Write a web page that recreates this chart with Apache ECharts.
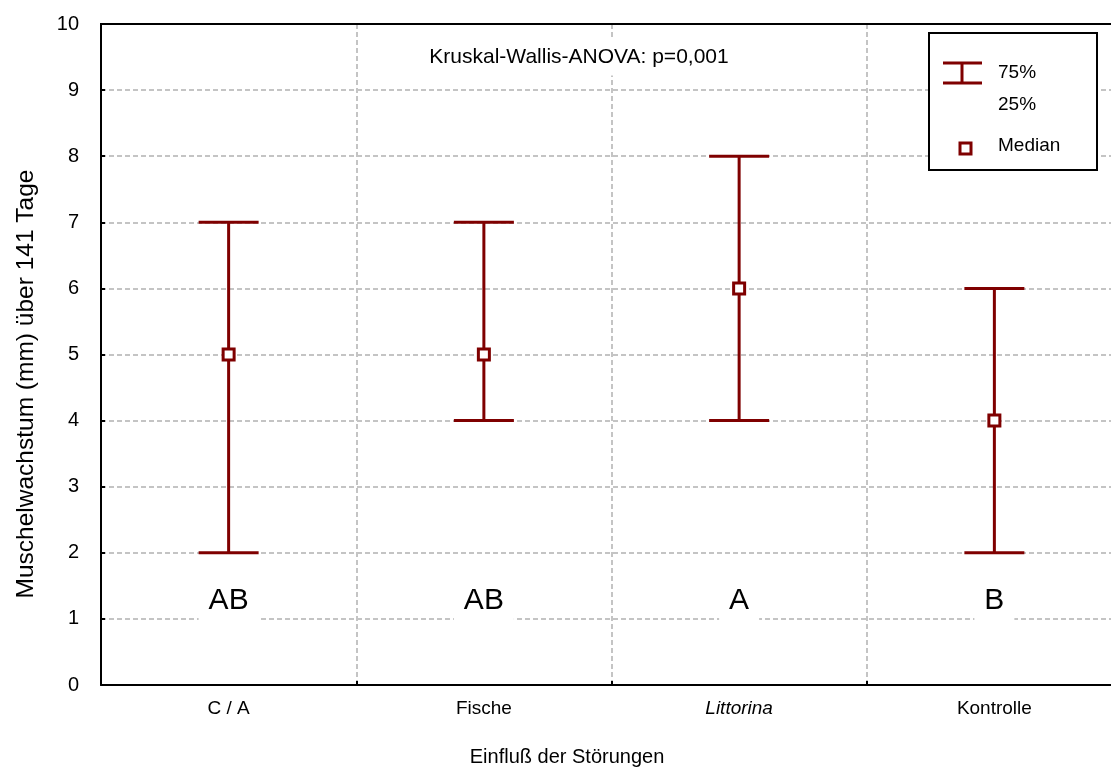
<!DOCTYPE html>
<html>
<head>
<meta charset="utf-8">
<script src="https://cdn.jsdelivr.net/npm/echarts@6/dist/echarts.min.js"></script>
<style>
html,body{margin:0;padding:0;background:#fff;}
#chart{width:1111px;height:769px;}
</style>
</head>
<body>
<div id="chart"></div>
<script>
var categories = ['C / A', 'Fische', 'Littorina', 'Kontrolle'];
var q25 = [2, 4, 4, 2];
var q75 = [7, 7, 8, 6];
var medians = [5, 5, 6, 4];
var letters = ['AB', 'AB', 'A', 'B'];
var letterLevel = [1.27, 1.27, 1.27, 1.27];
var yTicks = [0, 10, 1];

var RED = '#7f0000';
var FONT = '"Liberation Sans", Arial, sans-serif';

var chart = echarts.init(document.getElementById('chart'));

var option = {
  backgroundColor: '#fff',
  animation: false,
  grid: {left: 101, right: -11, top: 24, bottom: 84, show: false, outerBoundsMode: 'none', containLabel: false},
  xAxis: {
    type: 'category', data: categories, boundaryGap: true,
    axisLine: {show: true, lineStyle: {color: '#000', width: 2}},
    axisTick: {show: true, inside: true, length: 4, lineStyle: {color: '#000', width: 2}},
    splitLine: {show: true, lineStyle: {color: '#c4c4c4', type: [5, 3], width: 2}},
    axisLabel: {
      margin: 14, fontFamily: FONT, fontSize: 19, color: '#000',
      formatter: function (v) { return v === 'Littorina' ? '{i|' + v + '}' : v; },
      rich: {i: {fontStyle: 'italic', fontFamily: FONT, fontSize: 19, color: '#000'}}
    }
  },
  yAxis: {
    type: 'value', min: yTicks[0], max: yTicks[1], interval: yTicks[2],
    axisLine: {show: true, lineStyle: {color: '#000', width: 2}},
    axisTick: {show: true, inside: true, length: 4, lineStyle: {color: '#000', width: 2}},
    splitLine: {show: true, lineStyle: {color: '#c4c4c4', type: [5, 3], width: 2}},
    axisLabel: {margin: 22, fontFamily: FONT, fontSize: 20, color: '#000'}
  },
  graphic: [
    {type: 'line', shape: {x1: 100, y1: 24, x2: 1111, y2: 24}, style: {stroke: '#000', lineWidth: 2}, z: 100},
    {type: 'text', x: 26, y: 384, rotation: Math.PI / 2, style: {text: 'Muschelwachstum (mm) über 141 Tage', font: '24.5px ' + FONT, fill: '#000', textAlign: 'center', textVerticalAlign: 'middle'}},
    {type: 'text', x: 567, y: 757, style: {text: 'Einfluß der Störungen', font: '20px ' + FONT, fill: '#000', textAlign: 'center', textVerticalAlign: 'middle'}},
    {type: 'text', x: 579, y: 57, z: 50, style: {text: 'Kruskal-Wallis-ANOVA: p=0,001', font: '21px ' + FONT, fill: '#000', textAlign: 'center', textVerticalAlign: 'middle', backgroundColor: '#fff', padding: [8, 6, 8, 6]}},
    {type: 'rect', shape: {x: 929, y: 33, width: 168, height: 137}, style: {fill: '#fff', stroke: '#000', lineWidth: 2}, z: 100},
    {type: 'line', shape: {x1: 943, y1: 63, x2: 982, y2: 63}, style: {stroke: RED, lineWidth: 3}, z: 101},
    {type: 'line', shape: {x1: 943, y1: 83, x2: 982, y2: 83}, style: {stroke: RED, lineWidth: 3}, z: 101},
    {type: 'line', shape: {x1: 962, y1: 63, x2: 962, y2: 83}, style: {stroke: RED, lineWidth: 3}, z: 101},
    {type: 'text', x: 998, y: 73, style: {text: '75%', font: '19px ' + FONT, fill: '#000', textVerticalAlign: 'middle'}, z: 101},
    {type: 'text', x: 998, y: 105, style: {text: '25%', font: '19px ' + FONT, fill: '#000', textVerticalAlign: 'middle'}, z: 101},
    {type: 'rect', shape: {x: 960, y: 143, width: 11, height: 11}, style: {fill: '#fff', stroke: RED, lineWidth: 3}, z: 101},
    {type: 'text', x: 998, y: 146, style: {text: 'Median', font: '19px ' + FONT, fill: '#000', textVerticalAlign: 'middle'}, z: 101}
  ],
  series: [
    {
      type: 'custom',
      data: categories.map(function (c, i) { return [i, q25[i], q75[i]]; }),
      encode: {x: 0, y: [1, 2]},
      renderItem: function (params, api) {
        var lo = api.coord([api.value(0), api.value(1)]);
        var hi = api.coord([api.value(0), api.value(2)]);
        var hw = 30;
        var st = {stroke: RED, lineWidth: 3};
        return {type: 'group', children: [
          {type: 'line', shape: {x1: lo[0], y1: lo[1], x2: hi[0], y2: hi[1]}, style: st},
          {type: 'line', shape: {x1: lo[0] - hw, y1: lo[1], x2: lo[0] + hw, y2: lo[1]}, style: st},
          {type: 'line', shape: {x1: hi[0] - hw, y1: hi[1], x2: hi[0] + hw, y2: hi[1]}, style: st}
        ]};
      },
      z: 5
    },
    {
      type: 'scatter',
      data: categories.map(function (c, i) { return [i, medians[i]]; }),
      symbol: 'rect', symbolSize: 11,
      itemStyle: {color: '#fff', borderColor: RED, borderWidth: 3, opacity: 1},
      z: 6
    },
    {
      type: 'scatter',
      data: categories.map(function (c, i) { return [i, letterLevel[i]]; }),
      symbolSize: 0,
      itemStyle: {opacity: 1},
      label: {
        show: true, position: 'inside', opacity: 1,
        formatter: function (p) { return letters[p.dataIndex]; },
        fontFamily: FONT, fontSize: 30, color: '#000', textBorderWidth: 0,
        backgroundColor: '#fff', padding: [2, 10, 10, 10]
      },
      z: 4
    }
  ]
};
chart.setOption(option);
</script>
</body>
</html>
